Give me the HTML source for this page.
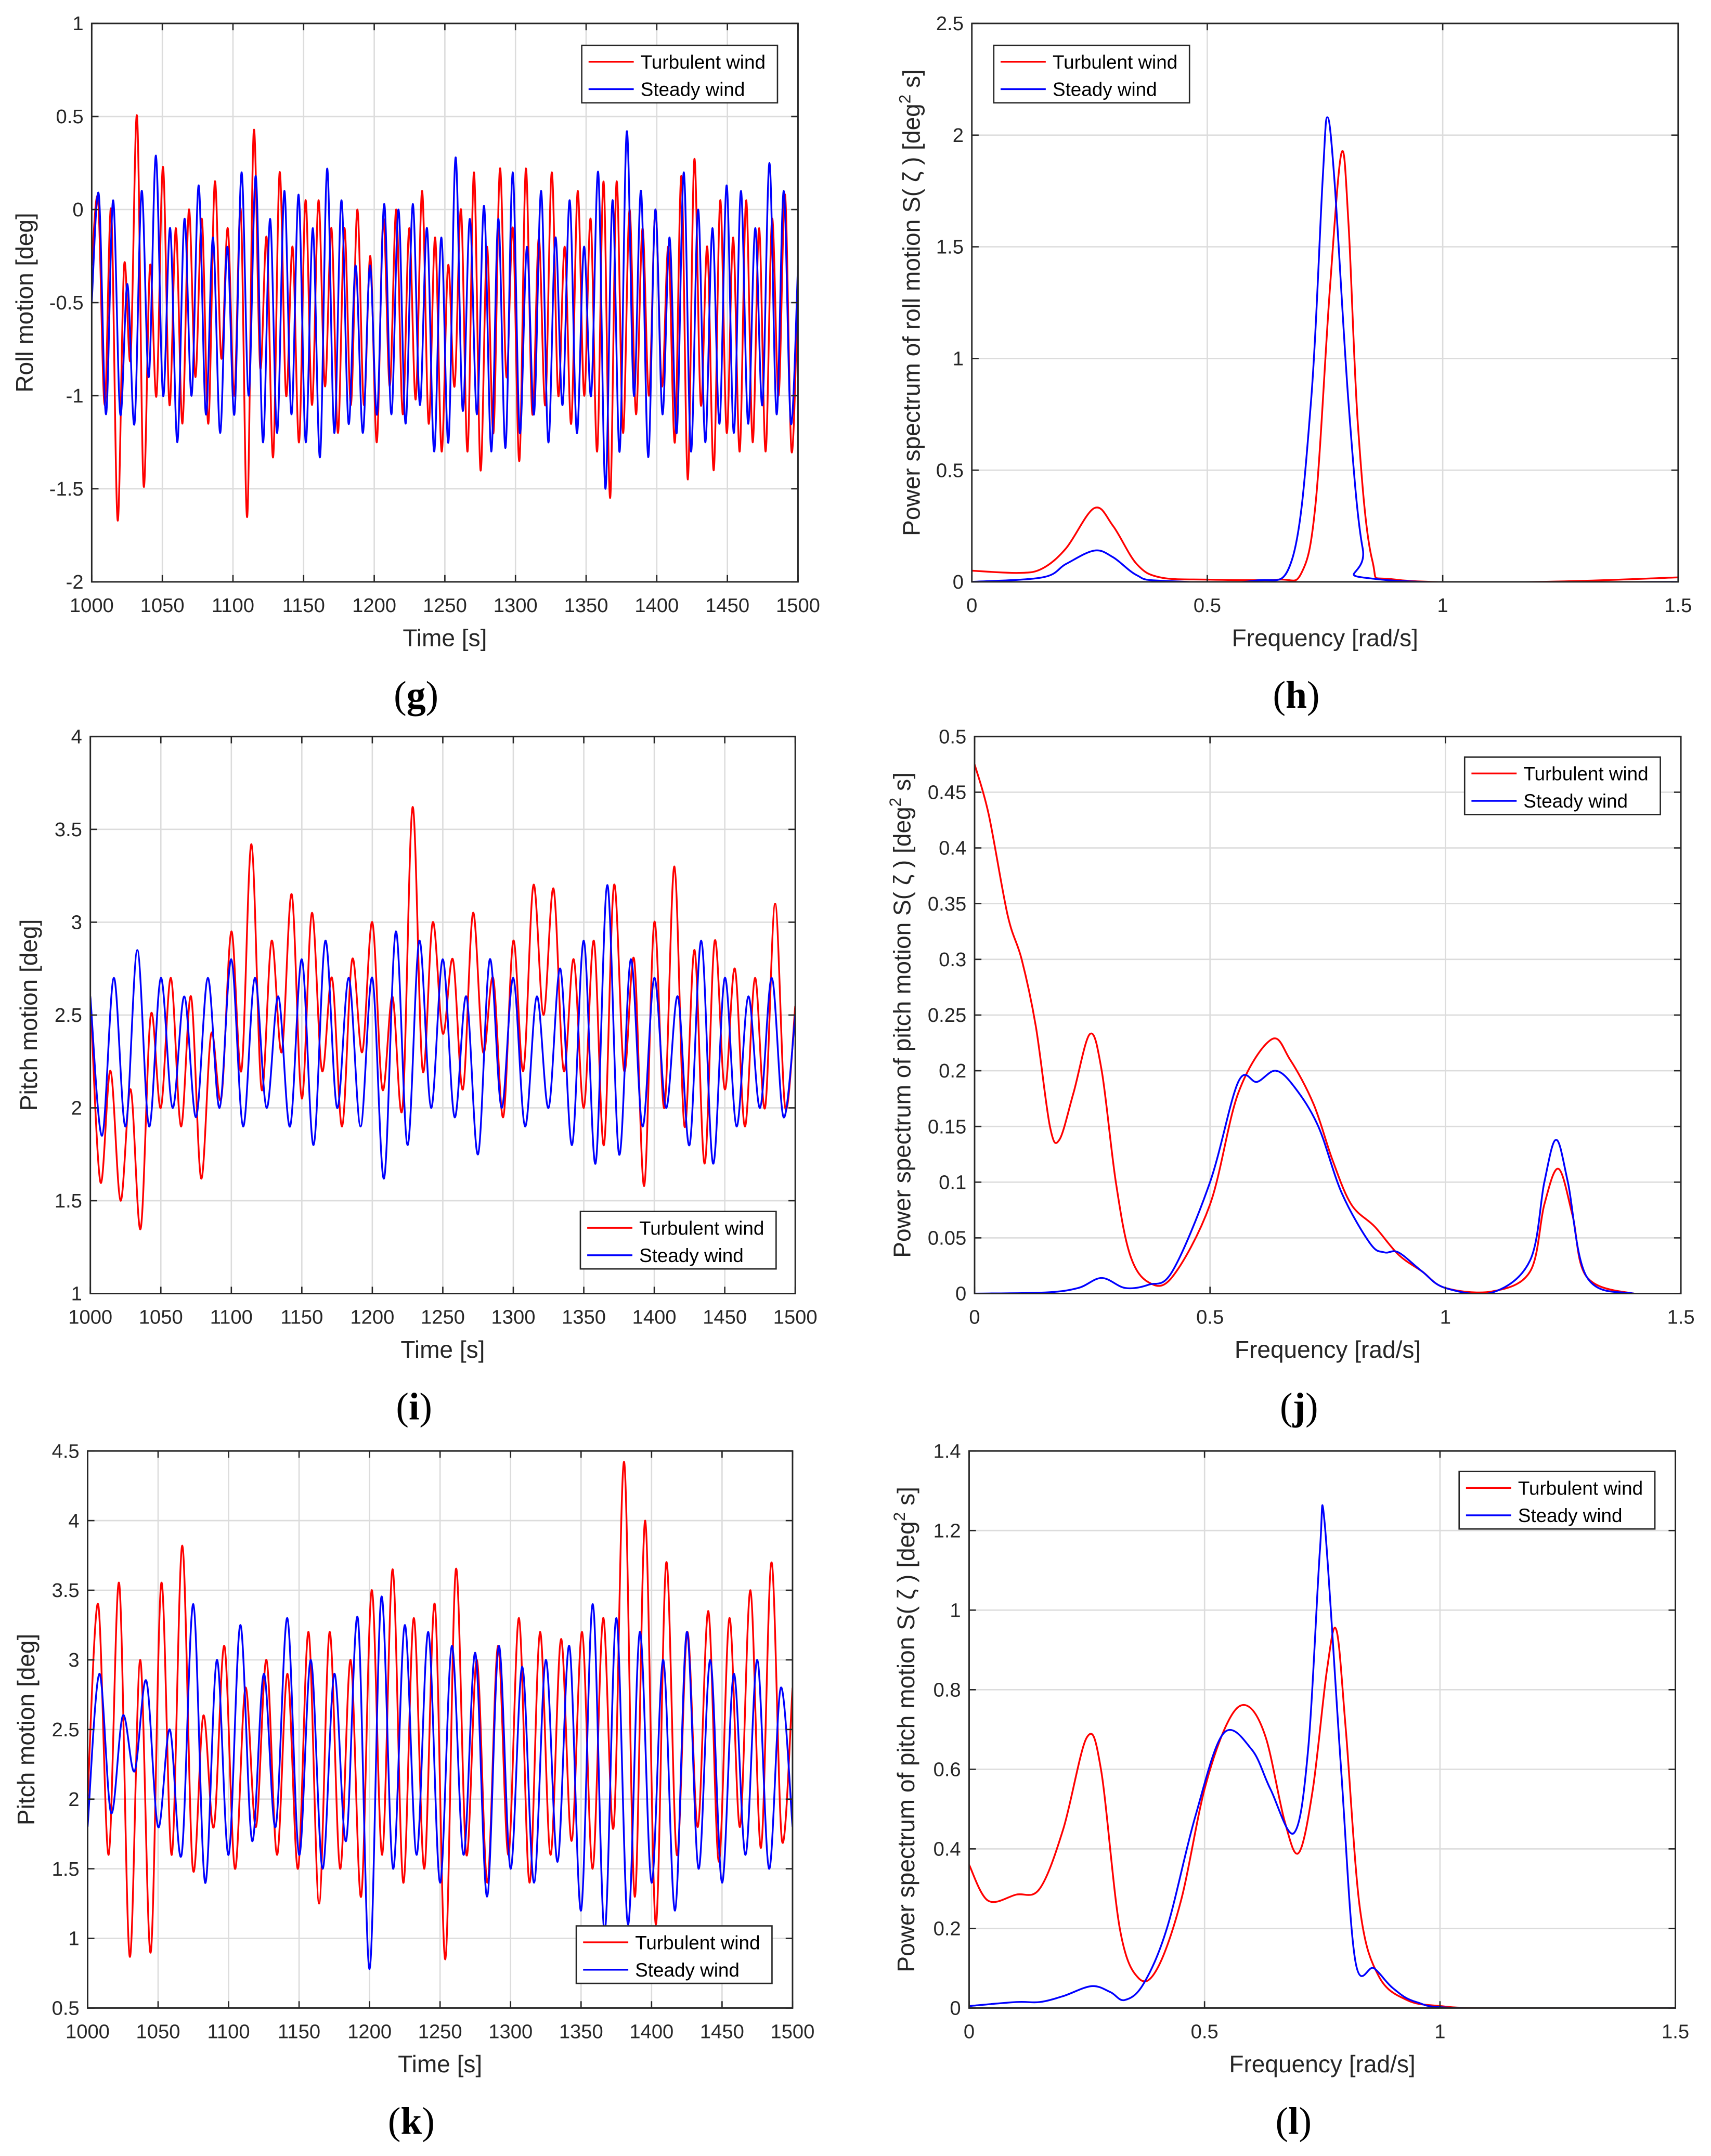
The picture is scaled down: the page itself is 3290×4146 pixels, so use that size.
<!DOCTYPE html>
<html><head><meta charset="utf-8">
<style>
html,body{margin:0;padding:0;background:#fff;}
svg{display:block;}
text{font-family:"Liberation Sans",Arial,sans-serif;fill:#262626;}
.tick{font-size:14.5px;}
.alab{font-size:17.5px;}
.leg{font-size:14px;fill:#000;}
.plab{font-family:"Liberation Serif",serif;font-size:28px;fill:#000;}
</style></head>
<body>
<svg id="fig" width="3290" height="4146" viewBox="0 0 1250 1575" xmlns="http://www.w3.org/2000/svg">
<rect width="1250" height="1575" fill="#fff"/>
</svg>
<script>
// ===== data =====
const rollTurbExt = [-0.3,0.05,-1.05,0.0,-1.67,-0.3,-0.8,0.5,-1.48,-0.3,-1.0,0.23,-1.05,-0.1,-1.15,0.0,-0.9,-0.05,-1.15,0.15,-0.8,-0.1,-1.0,0.0,-1.65,0.42,-0.85,-0.15,-1.33,0.2,-1.0,-0.2,-1.25,0.05,-1.05,0.05,-0.95,-0.1,-1.2,-0.1,-1.05,0.0,-1.05,-0.25,-1.25,-0.05,-0.95,0.0,-1.1,-0.1,-1.02,0.1,-1.15,-0.15,-1.3,-0.3,-0.95,0.0,-1.3,0.2,-1.4,-0.2,-1.2,0.22,-0.9,-0.1,-1.35,0.22,-1.1,-0.15,-1.05,0.2,-1.0,-0.2,-1.15,0.1,-1.0,-0.05,-1.3,0.15,-1.55,0.15,-1.2,0.0,-1.1,-0.1,-1.0,0.0,-0.95,-0.2,-1.25,0.18,-1.45,0.27,-1.05,-0.2,-1.4,0.05,-1.2,-0.15,-1.3,0.05,-1.25,-0.1,-1.3,-0.05,-1.0,0.08,-1.3,-0.4];
const rollSteadyExt = [-0.5,0.08,-1.1,0.05,-1.1,-0.4,-1.15,0.1,-0.9,0.29,-1.0,-0.1,-1.25,-0.05,-1.0,0.13,-1.1,-0.15,-1.2,-0.2,-1.1,0.2,-1.0,0.18,-1.25,-0.05,-1.2,0.1,-1.1,0.08,-1.25,-0.1,-1.33,0.22,-1.2,0.05,-1.15,-0.3,-1.2,-0.3,-1.1,0.03,-1.1,0.0,-1.15,0.03,-1.05,-0.1,-1.3,-0.15,-1.25,0.28,-1.08,-0.05,-1.1,0.02,-1.3,-0.05,-1.28,0.2,-1.2,-0.2,-1.1,0.1,-1.25,-0.15,-1.05,0.05,-1.2,-0.2,-1.0,0.2,-1.5,0.05,-1.3,0.42,-1.0,0.1,-1.33,0.0,-1.1,-0.15,-1.2,0.2,-1.3,0.0,-1.25,-0.1,-1.15,0.13,-1.2,0.1,-1.15,-0.1,-1.05,0.25,-1.1,0.1,-1.15,-0.3];
const pitchITurbExt = [2.6,1.6,2.2,1.5,2.1,1.35,2.5,2.0,2.7,1.9,2.6,1.62,2.4,2.05,2.95,2.2,3.42,2.1,2.9,2.3,3.15,2.05,3.05,2.2,2.7,1.9,2.8,2.3,3.0,2.1,2.6,2.0,3.62,2.2,3.0,2.4,2.8,2.1,3.05,2.3,2.7,1.95,2.9,2.2,3.2,2.5,3.18,2.2,2.8,2.0,2.9,1.8,3.2,2.2,2.8,1.58,3.0,2.0,3.3,1.9,2.85,1.7,2.9,2.1,2.75,1.9,2.7,2.0,3.1,2.0,2.55];
const pitchISteadyExt = [2.6,1.85,2.7,1.9,2.85,1.9,2.7,2.0,2.6,1.95,2.7,2.0,2.8,1.9,2.7,2.0,2.6,1.9,2.8,1.8,2.9,2.0,2.7,1.9,2.7,1.62,2.95,1.8,2.9,2.0,2.8,1.95,2.6,1.75,2.8,2.0,2.7,1.9,2.6,2.0,2.75,1.8,2.9,1.7,3.2,1.75,2.8,1.9,2.7,2.0,2.6,1.8,2.9,1.7,2.7,1.9,2.6,2.0,2.7,1.95,2.5];
const pitchKTurbExt = [2.0,3.4,1.6,3.55,0.87,3.0,0.9,3.55,1.6,3.82,1.5,2.6,1.8,3.1,1.5,2.8,1.8,3.0,1.6,2.9,1.5,3.2,1.25,3.2,1.5,3.0,1.3,3.5,1.6,3.65,1.4,3.3,1.5,3.4,0.85,3.65,1.6,3.0,1.4,3.1,1.6,3.3,1.4,3.2,1.6,3.15,1.7,3.2,1.5,3.3,1.8,4.42,1.3,4.0,1.1,3.7,1.6,3.2,1.8,3.35,1.55,3.3,1.8,3.5,1.65,3.7,1.7,2.8];
const pitchKSteadyExt = [1.8,2.9,1.9,2.6,2.2,2.85,1.8,2.5,1.6,3.4,1.4,3.0,1.6,3.25,1.7,2.9,1.8,3.3,1.6,3.0,1.5,2.9,1.7,3.3,0.78,3.45,1.5,3.25,1.6,3.2,1.4,3.1,1.6,3.05,1.3,3.1,1.5,2.95,1.4,3.0,1.55,3.1,1.2,3.4,1.05,3.3,1.1,3.2,1.4,3.0,1.2,3.2,1.5,3.0,1.4,2.9,1.6,3.0,1.5,2.8,1.8];

const hTurbF=[0,0.1,0.15,0.2,0.26,0.3,0.35,0.4,0.5,0.65,0.7,0.73,0.76,0.785,0.8,0.82,0.85,0.9,1.2,1.5];
const hTurbV=[0.05,0.04,0.06,0.15,0.33,0.25,0.08,0.02,0.01,0.01,0.04,0.35,1.3,1.92,1.6,0.7,0.1,0.01,0,0.02];
const hStF=[0,0.15,0.2,0.26,0.3,0.35,0.4,0.6,0.68,0.72,0.745,0.755,0.77,0.8,0.83,0.87,1.5];
const hStV=[0,0.02,0.08,0.14,0.11,0.03,0.005,0.005,0.1,0.8,1.8,2.08,1.8,0.8,0.15,0.01,0];
const jTurbF=[0,0.03,0.07,0.1,0.13,0.16,0.18,0.21,0.245,0.27,0.3,0.33,0.37,0.42,0.5,0.56,0.63,0.67,0.72,0.76,0.8,0.85,0.9,0.95,1.0,1.1,1.18,1.21,1.24,1.27,1.3,1.4,1.5];
const jTurbV=[0.475,0.43,0.34,0.3,0.24,0.15,0.138,0.18,0.233,0.2,0.1,0.035,0.01,0.015,0.08,0.18,0.228,0.21,0.17,0.12,0.08,0.06,0.035,0.02,0.005,0.002,0.02,0.08,0.112,0.07,0.015,0,0];
const jStF=[0,0.15,0.22,0.27,0.32,0.37,0.42,0.5,0.56,0.6,0.64,0.68,0.73,0.78,0.84,0.87,0.9,0.95,1.0,1.1,1.18,1.21,1.235,1.26,1.3,1.4,1.5];
const jStV=[0,0.001,0.005,0.014,0.005,0.008,0.02,0.1,0.19,0.19,0.2,0.185,0.15,0.09,0.045,0.037,0.037,0.02,0.005,0.001,0.03,0.1,0.138,0.1,0.015,0,0];
const lTurbF=[0,0.04,0.1,0.15,0.2,0.25,0.28,0.32,0.36,0.4,0.45,0.5,0.55,0.59,0.63,0.67,0.7,0.73,0.76,0.78,0.8,0.83,0.87,0.93,1.0,1.1,1.5];
const lTurbV=[0.36,0.27,0.285,0.3,0.45,0.68,0.6,0.2,0.075,0.1,0.27,0.55,0.72,0.76,0.68,0.47,0.39,0.55,0.85,0.95,0.7,0.25,0.08,0.02,0.005,0,0];
const lStF=[0,0.1,0.15,0.2,0.26,0.3,0.33,0.37,0.42,0.48,0.54,0.6,0.64,0.69,0.72,0.745,0.755,0.79,0.82,0.86,0.9,0.95,1.05,1.5];
const lStV=[0.005,0.015,0.015,0.03,0.055,0.04,0.02,0.06,0.2,0.48,0.69,0.65,0.55,0.44,0.65,1.15,1.22,0.6,0.12,0.1,0.05,0.015,0,0];

const NS="http://www.w3.org/2000/svg";
const svg=document.getElementById('fig');
function mk(tag,attrs,parent){const e=document.createElementNS(NS,tag);for(const k in attrs)e.setAttribute(k,attrs[k]);(parent||svg).appendChild(e);return e;}

function catmull(pts){
  let d='M'+pts[0][0].toFixed(2)+','+pts[0][1].toFixed(2);
  for(let i=0;i<pts.length-1;i++){
    const p0=pts[Math.max(0,i-1)],p1=pts[i],p2=pts[i+1],p3=pts[Math.min(pts.length-1,i+2)];
    const t=6;
    const c1=[p1[0]+(p2[0]-p0[0])/t,p1[1]+(p2[1]-p0[1])/t];
    const c2=[p2[0]-(p3[0]-p1[0])/t,p2[1]-(p3[1]-p1[1])/t];
    d+='C'+c1[0].toFixed(2)+','+c1[1].toFixed(2)+' '+c2[0].toFixed(2)+','+c2[1].toFixed(2)+' '+p2[0].toFixed(2)+','+p2[1].toFixed(2);
  }
  return d;
}

function axes(cfg){
  const g=mk('g',{});
  
  
  const {x0,x1,y0,y1,xmin,xmax,ymin,ymax}=cfg;
  const X=v=>x0+(v-xmin)/(xmax-xmin)*(x1-x0);
  const Y=v=>y1-(v-ymin)/(ymax-ymin)*(y1-y0);
  cfg.xticks.forEach(v=>{
    const l=mk('line',{x1:X(v),x2:X(v),y1:y0,y2:y1,stroke:'#dcdcdc','stroke-width':1},g);
    
    const t=mk('text',{x:X(v),y:y1+22,'text-anchor':'middle',class:'tick'},g);
    
    t.textContent=String(v);
  });
  cfg.yticks.forEach(v=>{
    const l=mk('line',{x1:x0,x2:x1,y1:Y(v),y2:Y(v),stroke:'#dcdcdc','stroke-width':1},g);
    
    const t=mk('text',{x:x0-6,y:Y(v)+5,'text-anchor':'end',class:'tick'},g);
    
    t.textContent=String(v);
  });
  const cp='cp'+cfg.name;
  const c=mk('clipPath',{id:cp},g);mk('rect',{x:x0,y:y0,width:x1-x0,height:y1-y0},c);
  cfg.series.forEach(s=>{
    let pts;
    if(s.ext){const n=s.ext.length;pts=s.ext.map((v,i)=>[X(xmin+i*(xmax-xmin)/(n-1)),Y(v)]);}
    else pts=s.f.map((f,i)=>[X(f),Y(s.v[i])]);
    const p=mk('path',{d:catmull(pts),fill:'none',stroke:s.color,'stroke-width':1.3,'clip-path':'url(#'+cp+')'},g);
    
  });
  const b=mk('rect',{x:x0,y:y0,width:x1-x0,height:y1-y0,fill:'none',stroke:'#262626','stroke-width':1.1},g);
  
  cfg.xticks.forEach(v=>{mk('line',{x1:X(v),x2:X(v),y1:y1,y2:y1-5,stroke:'#262626'},g);mk('line',{x1:X(v),x2:X(v),y1:y0,y2:y0+5,stroke:'#262626'},g);});
  cfg.yticks.forEach(v=>{mk('line',{x1:x0,x2:x0+5,y1:Y(v),y2:Y(v),stroke:'#262626'},g);mk('line',{x1:x1,x2:x1-5,y1:Y(v),y2:Y(v),stroke:'#262626'},g);});
  const xl=mk('text',{x:(x0+x1)/2,y:y1+47,'text-anchor':'middle',class:'alab'},g);
  
  xl.textContent=cfg.xlabel;
  const yl=mk('text',{x:0,y:0,'text-anchor':'middle',class:'alab',transform:'translate('+(cfg.ylx)+','+((y0+y1)/2)+') rotate(-90)'},g);
  
  yl.innerHTML=cfg.ylabel;
  // legend
  const L=cfg.leg;
  const lg=mk('g',{},g);
  
  mk('rect',{x:L[0],y:L[1],width:143,height:42,fill:'#fff',stroke:'#262626','stroke-width':1},lg);
  [['Turbulent wind','red'],['Steady wind','blue']].forEach((e,i)=>{
    const yy=L[1]+12+i*20;
    const eg=mk('g',{},lg);
    
    mk('line',{x1:L[0]+5,x2:L[0]+38,y1:yy,y2:yy,stroke:e[1],'stroke-width':1.3},eg);
    const t=mk('text',{x:L[0]+43,y:yy+5,class:'leg'},eg);t.textContent=e[0];
  });
  const pl=mk('text',{x:(x0+x1)/2-21,y:y1+92,'text-anchor':'middle',class:'plab'},g);
  
  pl.innerHTML='(<tspan font-weight="bold">'+cfg.panel+'</tspan>)';
}
const timeTicks=[1000,1050,1100,1150,1200,1250,1300,1350,1400,1450,1500];
const freqTicks=[0,0.5,1,1.5];
axes({name:'panel-g',panel:'g',x0:67,x1:583,y0:17,y1:425,xmin:1000,xmax:1500,ymin:-2,ymax:1,xticks:timeTicks,yticks:[-2,-1.5,-1,-0.5,0,0.5,1],xlabel:'Time [s]',ylabel:'Roll motion [deg]',ylx:24,leg:[425,33],
 series:[{name:'roll-turbulent-line',color:'red',ext:rollTurbExt},{name:'roll-steady-line',color:'blue',ext:rollSteadyExt}]});
axes({name:'panel-h',panel:'h',x0:710,x1:1226,y0:17,y1:425,xmin:0,xmax:1.5,ymin:0,ymax:2.5,xticks:freqTicks,yticks:[0,0.5,1,1.5,2,2.5],xlabel:'Frequency [rad/s]',ylabel:'Power spectrum of roll motion S( ζ )   [deg<tspan dy="-7" font-size="12">2</tspan><tspan dy="7"> s]</tspan>',ylx:672,leg:[726,33],
 series:[{name:'roll-spectrum-turbulent',color:'red',f:hTurbF,v:hTurbV},{name:'roll-spectrum-steady',color:'blue',f:hStF,v:hStV}]});
axes({name:'panel-i',panel:'i',x0:66,x1:581,y0:538,y1:945,xmin:1000,xmax:1500,ymin:1,ymax:4,xticks:timeTicks,yticks:[1,1.5,2,2.5,3,3.5,4],xlabel:'Time [s]',ylabel:'Pitch motion [deg]',ylx:27,leg:[424,885],
 series:[{name:'pitch-i-turbulent-line',color:'red',ext:pitchITurbExt},{name:'pitch-i-steady-line',color:'blue',ext:pitchISteadyExt}]});
axes({name:'panel-j',panel:'j',x0:712,x1:1228,y0:538,y1:945,xmin:0,xmax:1.5,ymin:0,ymax:0.5,xticks:freqTicks,yticks:[0,0.05,0.1,0.15,0.2,0.25,0.3,0.35,0.4,0.45,0.5],xlabel:'Frequency [rad/s]',ylabel:'Power spectrum of pitch motion S( ζ )   [deg<tspan dy="-7" font-size="12">2</tspan><tspan dy="7"> s]</tspan>',ylx:665,leg:[1070,553],
 series:[{name:'pitch-j-spectrum-turbulent',color:'red',f:jTurbF,v:jTurbV},{name:'pitch-j-spectrum-steady',color:'blue',f:jStF,v:jStV}]});
axes({name:'panel-k',panel:'k',x0:64,x1:579,y0:1060,y1:1467,xmin:1000,xmax:1500,ymin:0.5,ymax:4.5,xticks:timeTicks,yticks:[0.5,1,1.5,2,2.5,3,3.5,4,4.5],xlabel:'Time [s]',ylabel:'Pitch motion [deg]',ylx:25,leg:[421,1407],
 series:[{name:'pitch-k-turbulent-line',color:'red',ext:pitchKTurbExt},{name:'pitch-k-steady-line',color:'blue',ext:pitchKSteadyExt}]});
axes({name:'panel-l',panel:'l',x0:708,x1:1224,y0:1060,y1:1467,xmin:0,xmax:1.5,ymin:0,ymax:1.4,xticks:freqTicks,yticks:[0,0.2,0.4,0.6,0.8,1,1.2,1.4],xlabel:'Frequency [rad/s]',ylabel:'Power spectrum of pitch motion S( ζ )   [deg<tspan dy="-7" font-size="12">2</tspan><tspan dy="7"> s]</tspan>',ylx:668,leg:[1066,1075],
 series:[{name:'pitch-l-spectrum-turbulent',color:'red',f:lTurbF,v:lTurbV},{name:'pitch-l-spectrum-steady',color:'blue',f:lStF,v:lStV}]});
</script>
</body></html>
